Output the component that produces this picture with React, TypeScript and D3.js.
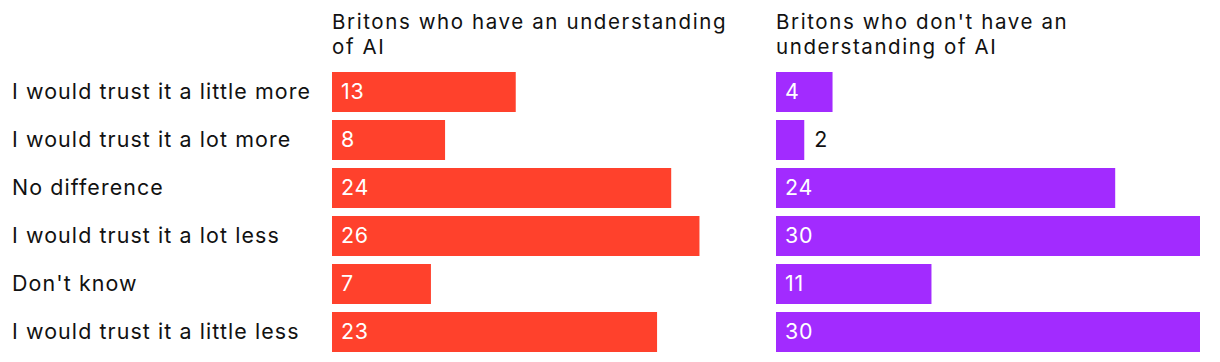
import * as d3 from "d3";

const categories = [
    "I would trust it a little more",
    "I would trust it a lot more",
    "No difference",
    "I would trust it a lot less",
    "Don't know",
    "I would trust it a little less",
];
const understand = [13, 8, 24, 26, 7, 23];
const noUnderstand = [4, 2, 24, 30, 11, 30];
const titles = [
    ["Britons who have an understanding", "of AI"],
    ["Britons who don't have an", "understanding of AI"],
];
const colors = ["#ff412c", "#a22bff"];

const App: React.FC = () => {
    const width = 1220;
    const height = 362;
    const font = "Inter, 'Noto Sans', sans-serif";
    const panelX = [332, 776];
    const x = d3.scaleLinear([0, 30], [0, 424]);
    const y = d3.scaleBand(categories, [72, 352]).paddingInner(1 / 6).paddingOuter(0);
    const series = [understand, noUnderstand];
    return (
        <svg width={width} height={height} style={{ position: "absolute", left: 0, top: 0 }} fontFamily={font}>
            <g fontSize={21.4} fill="#111" letterSpacing={1.1}>
                {categories.map((c) => (
                    <text key={c} x={12} y={y(c)! + y.bandwidth() / 2} dy="0.31em">{c}</text>
                ))}
            </g>
            {series.map((vals, s) => (
                <g key={s} transform={`translate(${panelX[s]},0)`}>
                    <text fontSize={20.5} fill="#111" letterSpacing={1.6}>
                        {titles[s].map((t, i) => (
                            <tspan key={i} x={0} y={28.5 + i * 25}>{t}</tspan>
                        ))}
                    </text>
                    {vals.map((v, i) => {
                        const inside = v >= 3;
                        const cy = y(categories[i])! + y.bandwidth() / 2;
                        return (
                            <g key={i}>
                                <rect x={0} y={y(categories[i])} width={x(v)} height={y.bandwidth()} fill={colors[s]} />
                                <text x={inside ? 9 : x(v) + 10} y={cy} dy="0.31em" fontSize={21.4} letterSpacing={0.8} fill={inside ? "#fff" : "#111"}>{v}</text>
                            </g>
                        );
                    })}
                </g>
            ))}
        </svg>
    );
};

export default App;
